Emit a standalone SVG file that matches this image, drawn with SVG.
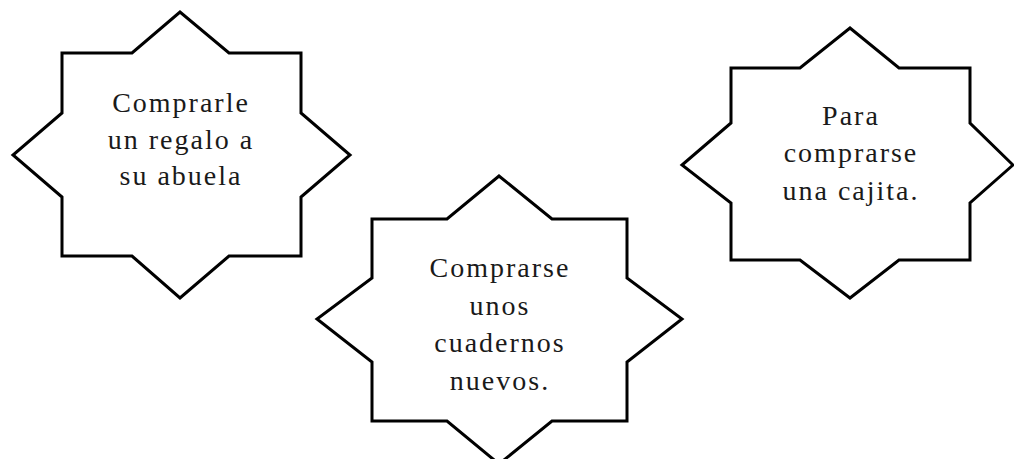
<svg xmlns="http://www.w3.org/2000/svg" width="1014" height="459" viewBox="0 0 1014 459">
<style>
.star{fill:#fff;stroke:#000;stroke-width:3;stroke-linejoin:miter}
.t{font-family:"Liberation Serif","Times New Roman",serif;font-size:28px;fill:#1a1a1a;text-anchor:middle;letter-spacing:2px}
</style>
<rect width="1014" height="459" fill="#fff"/>
<g id="connectors"></g>
<g id="node1">
<polygon class="star" points="62,53 132,53 180,12 229,53 301,53 301,113 350,155 301,197 301,256 229,256 180,298 132,256 62,256 62,197 13,155 62,113"/>
<text class="t" x="181" y="112">Comprarle</text>
<text class="t" x="181" y="149">un regalo a</text>
<text class="t" x="181" y="185">su abuela</text>
</g>
<g id="node2">
<polygon class="star" points="372,219 447,219 499,176 552,219 627,219 627,278 682,319 627,362 627,421 552,421 499,464 447,421 372,421 372,362 317,319 372,278"/>
<text class="t" x="500" y="277">Comprarse</text>
<text class="t" x="500" y="315">unos</text>
<text class="t" x="500" y="352">cuadernos</text>
<text class="t" x="500" y="390">nuevos.</text>
</g>
<g id="node3">
<polygon class="star" points="731,68 800,68 850,28 899,68 970,68 970,123 1013,165 970,203 970,260 899,260 850,298 800,260 731,260 731,203 682,165 731,123"/>
<text class="t" x="851" y="125">Para</text>
<text class="t" x="851" y="162">comprarse</text>
<text class="t" x="851" y="200">una cajita.</text>
</g>
</svg>
